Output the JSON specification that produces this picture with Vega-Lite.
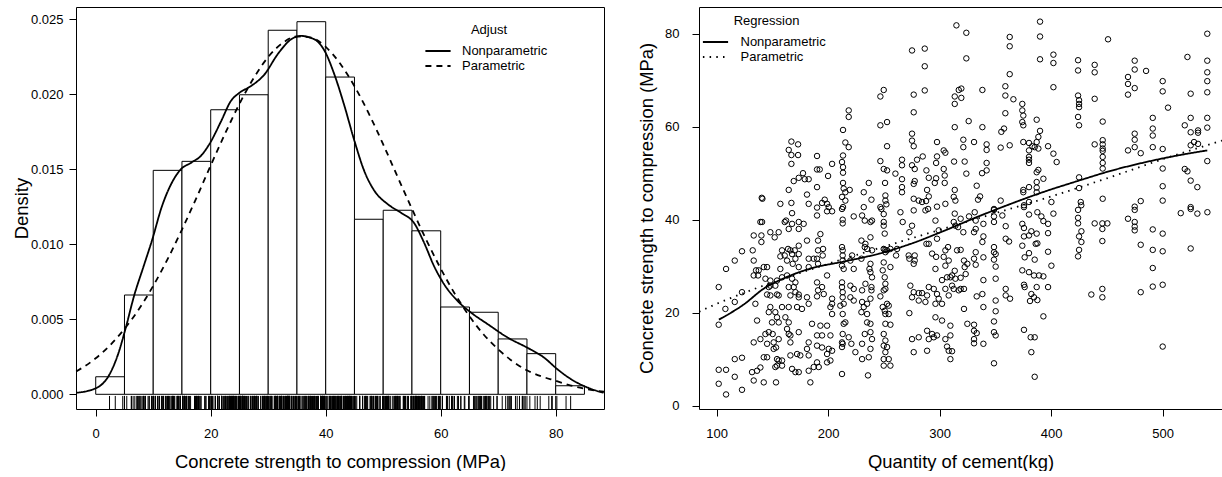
{
"$schema": "https://vega.github.io/schema/vega-lite/v6.json",
"background": "white",
"padding": {"left": 11, "top": 6, "right": 0, "bottom": 0},
"bounds": "flush",
"spacing": 95,
"config": {
"font": "Liberation Sans",
"view": {"stroke": "black", "strokeWidth": 1},
"axis": {"domain": false, "ticks": true, "tickColor": "black", "tickSize": 7, "tickWidth": 1, "labelColor": "black", "labelFontSize": 13, "labelFont": "Liberation Sans", "titleFont": "Liberation Sans", "titleFontSize": 18.4, "titleFontWeight": "normal", "titleColor": "black", "grid": false, "labelFlush": false, "labelOverlap": false},
"axisX": {"labelPadding": 11, "titlePadding": 12},
"axisY": {"labelPadding": 6, "titlePadding": -1},
"legend": {"labelFont": "Liberation Sans", "titleFont": "Liberation Sans", "labelFontSize": 13, "titleFontSize": 13, "titleFontWeight": "normal", "labelColor": "black", "titleColor": "black", "symbolType": "M-1.8,0H1.8", "symbolSize": 196, "symbolStrokeWidth": 1.8, "symbolStrokeColor": "black", "padding": 0, "rowPadding": 0, "titlePadding": 6, "titleAnchor": "middle", "titleAlign": "center"}
},
"datasets": {
"hist": [
{"b0":0,"b1":5,"d":0.00117},{"b0":5,"b1":10,"d":0.00662},{"b0":10,"b1":15,"d":0.01493},{"b0":15,"b1":20,"d":0.01553},{"b0":20,"b1":25,"d":0.01897},{"b0":25,"b1":30,"d":0.01997},{"b0":30,"b1":35,"d":0.02427},{"b0":35,"b1":40,"d":0.02484},{"b0":40,"b1":45,"d":0.02115},{"b0":45,"b1":50,"d":0.01167},{"b0":50,"b1":55,"d":0.01227},{"b0":55,"b1":60,"d":0.0109},{"b0":60,"b1":65,"d":0.00582},{"b0":65,"b1":70,"d":0.00547},{"b0":70,"b1":75,"d":0.00369},{"b0":75,"b1":80,"d":0.00271},{"b0":80,"b1":85,"d":0.00057}
],
"dens": [
{"x":-3.4,"d":0.0001,"type":"Nonparametric"},{"x":0,"d":0.0004,"type":"Nonparametric"},{"x":2.5,"d":0.0014,"type":"Nonparametric"},{"x":4,"d":0.0028,"type":"Nonparametric"},{"x":5.2,"d":0.0044,"type":"Nonparametric"},{"x":6.7,"d":0.0066,"type":"Nonparametric"},{"x":8.3,"d":0.0085,"type":"Nonparametric"},{"x":9.9,"d":0.0104,"type":"Nonparametric"},{"x":11.4,"d":0.0124,"type":"Nonparametric"},{"x":13.1,"d":0.014,"type":"Nonparametric"},{"x":14.8,"d":0.015,"type":"Nonparametric"},{"x":16.6,"d":0.01544,"type":"Nonparametric"},{"x":18.3,"d":0.0159,"type":"Nonparametric"},{"x":19.8,"d":0.0167,"type":"Nonparametric"},{"x":21.8,"d":0.0182,"type":"Nonparametric"},{"x":23.5,"d":0.01955,"type":"Nonparametric"},{"x":25,"d":0.0201,"type":"Nonparametric"},{"x":27,"d":0.02055,"type":"Nonparametric"},{"x":29.3,"d":0.0213,"type":"Nonparametric"},{"x":31.7,"d":0.0227,"type":"Nonparametric"},{"x":34,"d":0.02367,"type":"Nonparametric"},{"x":35.7,"d":0.02389,"type":"Nonparametric"},{"x":38,"d":0.02367,"type":"Nonparametric"},{"x":39.8,"d":0.0229,"type":"Nonparametric"},{"x":41.5,"d":0.02133,"type":"Nonparametric"},{"x":43.2,"d":0.0193,"type":"Nonparametric"},{"x":45,"d":0.01689,"type":"Nonparametric"},{"x":46.7,"d":0.01489,"type":"Nonparametric"},{"x":48.5,"d":0.01355,"type":"Nonparametric"},{"x":50.8,"d":0.01267,"type":"Nonparametric"},{"x":53.1,"d":0.0121,"type":"Nonparametric"},{"x":55.4,"d":0.0114,"type":"Nonparametric"},{"x":57,"d":0.0102,"type":"Nonparametric"},{"x":58.9,"d":0.0085,"type":"Nonparametric"},{"x":60.6,"d":0.00733,"type":"Nonparametric"},{"x":63,"d":0.0062,"type":"Nonparametric"},{"x":65.3,"d":0.00544,"type":"Nonparametric"},{"x":68.2,"d":0.00467,"type":"Nonparametric"},{"x":71.7,"d":0.00377,"type":"Nonparametric"},{"x":75.1,"d":0.0031,"type":"Nonparametric"},{"x":78,"d":0.00244,"type":"Nonparametric"},{"x":80.3,"d":0.00167,"type":"Nonparametric"},{"x":82.7,"d":0.001,"type":"Nonparametric"},{"x":85.6,"d":0.00044,"type":"Nonparametric"},{"x":88.3,"d":0.0001,"type":"Nonparametric"},
{"x":-3.4,"d":0.00152,"type":"Parametric"},{"x":0,"d":0.0024,"type":"Parametric"},{"x":2.5,"d":0.00327,"type":"Parametric"},{"x":5,"d":0.00436,"type":"Parametric"},{"x":7.5,"d":0.00567,"type":"Parametric"},{"x":10,"d":0.00723,"type":"Parametric"},{"x":12.5,"d":0.00901,"type":"Parametric"},{"x":15,"d":0.01098,"type":"Parametric"},{"x":17.5,"d":0.01308,"type":"Parametric"},{"x":20,"d":0.01526,"type":"Parametric"},{"x":22.5,"d":0.01738,"type":"Parametric"},{"x":25,"d":0.01937,"type":"Parametric"},{"x":27.5,"d":0.0211,"type":"Parametric"},{"x":30,"d":0.02249,"type":"Parametric"},{"x":32.5,"d":0.02342,"type":"Parametric"},{"x":35,"d":0.02386,"type":"Parametric"},{"x":37.5,"d":0.02377,"type":"Parametric"},{"x":40,"d":0.02316,"type":"Parametric"},{"x":42.5,"d":0.02205,"type":"Parametric"},{"x":45,"d":0.02054,"type":"Parametric"},{"x":47.5,"d":0.01871,"type":"Parametric"},{"x":50,"d":0.01666,"type":"Parametric"},{"x":52.5,"d":0.0145,"type":"Parametric"},{"x":55,"d":0.01236,"type":"Parametric"},{"x":57.5,"d":0.01029,"type":"Parametric"},{"x":60,"d":0.00838,"type":"Parametric"},{"x":62.5,"d":0.00667,"type":"Parametric"},{"x":65,"d":0.0052,"type":"Parametric"},{"x":67.5,"d":0.00397,"type":"Parametric"},{"x":70,"d":0.003,"type":"Parametric"},{"x":72.5,"d":0.0022,"type":"Parametric"},{"x":75,"d":0.0016,"type":"Parametric"},{"x":77.5,"d":0.0012,"type":"Parametric"},{"x":80,"d":0.0009,"type":"Parametric"},{"x":82.5,"d":0.0006,"type":"Parametric"},{"x":85,"d":0.00038,"type":"Parametric"},{"x":88.4,"d":0.00017,"type":"Parametric"}
],
"reg": [
{"x":102,"y":18.5,"type":"Nonparametric"},{"x":124.5,"y":21.8,"type":"Nonparametric"},{"x":142.4,"y":25.2,"type":"Nonparametric"},{"x":160.4,"y":27.4,"type":"Nonparametric"},{"x":184.3,"y":29.5,"type":"Nonparametric"},{"x":214.2,"y":31.0,"type":"Nonparametric"},{"x":244.1,"y":32.6,"type":"Nonparametric"},{"x":274,"y":34.8,"type":"Nonparametric"},{"x":303.9,"y":37.6,"type":"Nonparametric"},{"x":333.8,"y":40.6,"type":"Nonparametric"},{"x":363.7,"y":43.4,"type":"Nonparametric"},{"x":393.6,"y":46.0,"type":"Nonparametric"},{"x":423.5,"y":48.3,"type":"Nonparametric"},{"x":453.4,"y":50.5,"type":"Nonparametric"},{"x":483.3,"y":52.3,"type":"Nonparametric"},{"x":513.2,"y":53.8,"type":"Nonparametric"},{"x":540,"y":54.9,"type":"Nonparametric"},
{"x":84.2,"y":20.2,"type":"Parametric"},{"x":100,"y":21.9,"type":"Parametric"},{"x":125,"y":24.3,"type":"Parametric"},{"x":150,"y":26.5,"type":"Parametric"},{"x":200,"y":30.5,"type":"Parametric"},{"x":250,"y":34.2,"type":"Parametric"},{"x":300,"y":37.8,"type":"Parametric"},{"x":350,"y":41.4,"type":"Parametric"},{"x":400,"y":45.0,"type":"Parametric"},{"x":450,"y":48.9,"type":"Parametric"},{"x":500,"y":53.0,"type":"Parametric"},{"x":553.2,"y":57.0,"type":"Parametric"}
],
"pts": [
{"c":315,"s":81.8},{"c":275.2,"s":76.4},{"c":286.6,"s":76.8},{"c":286.6,"s":73.0},{"c":246.8,"s":66.5},{"c":249.8,"s":67.9},{"c":276.7,"s":66.9},{"c":286.6,"s":67.8},{"c":313.5,"s":66.5},{"c":317.1,"s":67.9},{"c":313.5,"s":64.9},{"c":218.4,"s":63.5},{"c":218.4,"s":62.1},{"c":276.7,"s":63.1},{"c":246.8,"s":60.3},{"c":252.8,"s":61.0},{"c":313.5,"s":59.9},{"c":213.3,"s":59.3},{"c":275.2,"s":58.5},{"c":275.2,"s":57.0},{"c":276.7,"s":55.8},{"c":297.6,"s":56.7},{"c":167,"s":56.8},{"c":173,"s":56.2},{"c":164.6,"s":55.0},{"c":167,"s":53.9},{"c":173,"s":53.9},{"c":167,"s":52.0},{"c":190,"s":53.7},{"c":213.3,"s":53.8},{"c":215.4,"s":56.6},{"c":218.4,"s":55.6},{"c":212.4,"s":52.4},{"c":213.3,"s":51.3},{"c":213.3,"s":50.1},{"c":252.8,"s":55.8},{"c":203.5,"s":52.0},{"c":246.8,"s":52.6},{"c":249.8,"s":50.9},{"c":252.8,"s":50.6},{"c":260.3,"s":49.9},{"c":266.2,"s":52.9},{"c":266.2,"s":51.7},{"c":275.2,"s":51.7},{"c":277.6,"s":50.9},{"c":279.7,"s":52.9},{"c":284.8,"s":53.6},{"c":297.6,"s":53.6},{"c":296.8,"s":52.2},{"c":303.6,"s":54.9},{"c":305.1,"s":54.4},{"c":312.9,"s":52.5},{"c":288.1,"s":50.6},{"c":290.2,"s":49.0},{"c":296.8,"s":48.9},{"c":295.6,"s":47.9},{"c":303.6,"s":50.9},{"c":304.5,"s":49.5},{"c":304.5,"s":47.9},{"c":177.4,"s":50.0},{"c":173.6,"s":49.0},{"c":179,"s":48.7},{"c":182.5,"s":48.7},{"c":169.1,"s":48.3},{"c":190,"s":50.8},{"c":192.4,"s":50.8},{"c":199.9,"s":49.4},{"c":164.6,"s":46.4},{"c":190,"s":47.0},{"c":213.3,"s":47.9},{"c":213.9,"s":46.7},{"c":215.4,"s":45.9},{"c":219.3,"s":46.4},{"c":212.4,"s":44.9},{"c":215.4,"s":44.1},{"c":213.3,"s":42.7},{"c":236.4,"s":47.9},{"c":231.9,"s":45.9},{"c":238.8,"s":44.3},{"c":246.8,"s":42.7},{"c":251,"s":47.9},{"c":251.3,"s":45.2},{"c":251.3,"s":44.1},{"c":252.2,"s":43.3},{"c":266.2,"s":48.7},{"c":266.2,"s":47.0},{"c":266.2,"s":45.9},{"c":277.6,"s":48.3},{"c":276.7,"s":47.7},{"c":276.7,"s":44.5},{"c":281.2,"s":44.1},{"c":284.2,"s":43.8},{"c":288.7,"s":46.4},{"c":290.2,"s":45.0},{"c":287.8,"s":44.0},{"c":305.1,"s":43.4},{"c":297.6,"s":42.8},{"c":313.5,"s":46.4},{"c":312.6,"s":44.9},{"c":314.1,"s":44.1},{"c":140.4,"s":44.7},{"c":141,"s":44.5},{"c":157.1,"s":43.4},{"c":167,"s":43.6},{"c":181,"s":45.4},{"c":182.5,"s":43.4},{"c":196.9,"s":44.3},{"c":194.5,"s":43.6},{"c":199,"s":43.4},{"c":190,"s":42.6},{"c":200.5,"s":42.7},{"c":231.9,"s":42.7},
{"c":323.9,"s":80.2},{"c":323.9,"s":74.7},{"c":319.4,"s":68.2},{"c":319.4,"s":66.2},{"c":338.3,"s":67.9},{"c":390,"s":82.6},{"c":390,"s":79.4},{"c":390,"s":74.5},{"c":362.8,"s":79.3},{"c":362.8,"s":77.3},{"c":362.8,"s":71.3},{"c":402,"s":75.5},{"c":402,"s":73.7},{"c":402,"s":68.5},{"c":451,"s":78.8},{"c":424.1,"s":74.3},{"c":424.1,"s":72.1},{"c":439,"s":73.3},{"c":439,"s":71.7},{"c":439,"s":66.0},{"c":474.9,"s":74.2},{"c":474.9,"s":72.3},{"c":485.1,"s":72.0},{"c":468.9,"s":70.7},{"c":468.9,"s":69.2},{"c":468.9,"s":66.9},{"c":474.9,"s":68.3},{"c":500,"s":69.8},{"c":500,"s":67.6},{"c":504.8,"s":64.1},{"c":522.2,"s":75.0},{"c":525.1,"s":67.1},{"c":540,"s":80.0},{"c":540,"s":74.2},{"c":540,"s":71.7},{"c":540,"s":69.8},{"c":540,"s":67.4},{"c":540,"s":61.9},{"c":540,"s":59.8},{"c":540,"s":52.6},{"c":525.1,"s":61.9},{"c":519.8,"s":60.3},{"c":525.1,"s":58.8},{"c":531.7,"s":59.2},{"c":531.7,"s":58.7},{"c":528.1,"s":56.7},{"c":531.7,"s":56.3},{"c":525.1,"s":56.0},{"c":519.8,"s":50.9},{"c":522.2,"s":50.4},{"c":525.1,"s":48.4},{"c":531.1,"s":47.0},{"c":500,"s":55.2},{"c":500,"s":51.0},{"c":500,"s":47.2},{"c":500,"s":44.1},{"c":491.1,"s":61.9},{"c":491.1,"s":59.6},{"c":491.1,"s":58.1},{"c":491.1,"s":55.6},{"c":474.9,"s":58.5},{"c":474.9,"s":57.2},{"c":474.9,"s":55.6},{"c":468.9,"s":54.9},{"c":480.3,"s":54.3},{"c":424.1,"s":66.7},{"c":425,"s":65.7},{"c":425,"s":64.9},{"c":425,"s":64.2},{"c":424.1,"s":62.1},{"c":425,"s":60.3},{"c":446.2,"s":61.1},{"c":439,"s":56.2},{"c":446.2,"s":57.1},{"c":446.2,"s":56.2},{"c":446.2,"s":55.3},{"c":446.2,"s":54.8},{"c":446.2,"s":53.5},{"c":446.2,"s":52.2},{"c":446.2,"s":51.0},{"c":425,"s":49.1},{"c":425,"s":46.8},{"c":446.2,"s":44.5},{"c":426.5,"s":43.8},{"c":427,"s":43.1},{"c":474.9,"s":42.8},{"c":480.3,"s":44.0},{"c":525.1,"s":42.7},{"c":358.9,"s":68.7},{"c":358.9,"s":66.7},{"c":366.1,"s":65.9},{"c":358.9,"s":62.9},{"c":374.1,"s":64.9},{"c":374.1,"s":63.5},{"c":375,"s":62.4},{"c":374.1,"s":61.0},{"c":375,"s":60.3},{"c":387,"s":61.5},{"c":326,"s":61.2},{"c":338.3,"s":59.9},{"c":357.7,"s":59.6},{"c":355.3,"s":58.9},{"c":390,"s":59.1},{"c":388.5,"s":57.8},{"c":387,"s":56.7},{"c":385.2,"s":55.6},{"c":388.5,"s":55.3},{"c":375,"s":56.7},{"c":380.1,"s":56.5},{"c":383.1,"s":55.8},{"c":380.1,"s":54.9},{"c":362.8,"s":56.0},{"c":354.7,"s":55.5},{"c":397.2,"s":55.8},{"c":402,"s":54.2},{"c":404.9,"s":52.4},{"c":380.1,"s":53.5},{"c":380.1,"s":52.9},{"c":380.1,"s":52.2},{"c":321.2,"s":57.2},{"c":330.8,"s":56.7},{"c":321.2,"s":55.6},{"c":342.1,"s":56.2},{"c":342.1,"s":55.0},{"c":322.4,"s":52.5},{"c":342.1,"s":52.2},{"c":323.9,"s":49.9},{"c":338,"s":50.0},{"c":342.1,"s":50.6},{"c":388.5,"s":50.7},{"c":387,"s":50.2},{"c":393,"s":48.8},{"c":387,"s":48.1},{"c":387,"s":46.9},{"c":387,"s":45.9},{"c":380.1,"s":47.0},{"c":375,"s":46.4},{"c":375,"s":45.9},{"c":333.2,"s":47.3},{"c":336.2,"s":45.0},{"c":334.4,"s":44.3},{"c":354.7,"s":44.1},{"c":348.7,"s":42.3},{"c":380.1,"s":43.8},{"c":375.6,"s":43.1},{"c":400.2,"s":43.8},
{"c":167.6,"s":41.4},{"c":190,"s":40.9},{"c":199,"s":41.8},{"c":203.5,"s":41.8},{"c":212.4,"s":42.3},{"c":213,"s":40.0},{"c":213,"s":39.2},{"c":222.9,"s":40.7},{"c":230.4,"s":40.9},{"c":232.8,"s":39.8},{"c":237.9,"s":39.5},{"c":239.3,"s":39.8},{"c":247.7,"s":42.3},{"c":249.8,"s":41.2},{"c":249.8,"s":39.5},{"c":249.8,"s":38.7},{"c":250.7,"s":37.0},{"c":264.8,"s":41.6},{"c":266.8,"s":39.5},{"c":275.2,"s":38.7},{"c":272.8,"s":37.3},{"c":276.7,"s":42.0},{"c":287.2,"s":42.0},{"c":289.6,"s":42.3},{"c":296.2,"s":39.8},{"c":299.1,"s":37.7},{"c":297.6,"s":35.9},{"c":290.2,"s":34.8},{"c":313.5,"s":41.3},{"c":312.6,"s":39.5},{"c":316.5,"s":38.4},{"c":314.1,"s":38.7},{"c":139.2,"s":39.5},{"c":140.7,"s":39.5},{"c":133.2,"s":36.6},{"c":140.1,"s":36.6},{"c":140.1,"s":35.2},{"c":148.1,"s":37.3},{"c":155.6,"s":37.3},{"c":152,"s":36.2},{"c":161,"s":39.5},{"c":162.2,"s":39.8},{"c":167.6,"s":39.1},{"c":173.6,"s":39.5},{"c":178,"s":39.1},{"c":164.6,"s":38.0},{"c":173.6,"s":38.0},{"c":181,"s":35.5},{"c":190.9,"s":35.5},{"c":193,"s":36.9},{"c":195.4,"s":33.7},{"c":173.6,"s":34.4},{"c":170,"s":33.4},{"c":166.1,"s":33.4},{"c":164,"s":33.7},{"c":167.6,"s":32.6},{"c":173.6,"s":32.6},{"c":158.6,"s":33.4},{"c":157.1,"s":32.1},{"c":161,"s":32.3},{"c":163.1,"s":31.2},{"c":170.6,"s":31.6},{"c":168.2,"s":30.5},{"c":173.6,"s":29.8},{"c":182.5,"s":31.6},{"c":190.9,"s":33.4},{"c":190,"s":31.6},{"c":195.1,"s":32.3},{"c":212.4,"s":34.1},{"c":213,"s":33.4},{"c":213,"s":32.3},{"c":213,"s":31.2},{"c":212.4,"s":30.1},{"c":213.9,"s":29.4},{"c":221.4,"s":32.3},{"c":219.9,"s":31.2},{"c":222.9,"s":29.4},{"c":229.8,"s":35.5},{"c":233.4,"s":34.8},{"c":234.9,"s":33.7},{"c":232.8,"s":34.1},{"c":239.3,"s":33.4},{"c":237.9,"s":36.2},{"c":229.8,"s":31.6},{"c":249.8,"s":33.7},{"c":251.3,"s":33.5},{"c":251.3,"s":33.0},{"c":252.8,"s":33.4},{"c":255.8,"s":33.7},{"c":261.8,"s":33.7},{"c":260.9,"s":32.3},{"c":237.9,"s":30.5},{"c":237,"s":29.4},{"c":237.9,"s":28.7},{"c":239.3,"s":27.6},{"c":249.8,"s":30.8},{"c":248.9,"s":29.1},{"c":250.7,"s":27.6},{"c":251.3,"s":26.2},{"c":255.8,"s":29.8},{"c":272.2,"s":32.3},{"c":272.8,"s":31.6},{"c":277.6,"s":32.3},{"c":277.6,"s":31.2},{"c":276.7,"s":30.5},{"c":288.1,"s":34.8},{"c":296.8,"s":32.0},{"c":293.2,"s":32.7},{"c":305.1,"s":33.4},{"c":307.5,"s":34.1},{"c":315.6,"s":33.4},{"c":308.1,"s":31.2},{"c":303.6,"s":32.0},{"c":296.2,"s":29.4},{"c":305.1,"s":30.1},{"c":313.5,"s":29.0},{"c":302.1,"s":27.0},{"c":306.6,"s":27.6},{"c":311.1,"s":28.0},{"c":101.8,"s":25.5},{"c":108.4,"s":29.4},{"c":116.2,"s":31.2},{"c":122.7,"s":33.2},{"c":132.3,"s":33.4},{"c":133.2,"s":31.2},{"c":135.3,"s":29.1},{"c":133.2,"s":28.0},{"c":137.1,"s":28.0},{"c":137.7,"s":29.1},{"c":142.2,"s":29.8},{"c":145.2,"s":29.8},{"c":143.7,"s":27.3},{"c":148.1,"s":26.9},{"c":148.1,"s":25.8},{"c":152.6,"s":25.8},{"c":154.1,"s":26.9},{"c":157.1,"s":29.4},{"c":158.6,"s":27.6},{"c":163.1,"s":28.0},{"c":167.6,"s":27.3},{"c":164.6,"s":25.5},{"c":169.1,"s":25.5},{"c":170.6,"s":24.4},{"c":173.6,"s":23.9},{"c":173.6,"s":23.3},{"c":166.1,"s":23.7},{"c":170.6,"s":26.5},{"c":145.2,"s":23.9},{"c":148.1,"s":23.7},{"c":154.1,"s":23.9},{"c":155.6,"s":23.7},{"c":146.7,"s":25.5},{"c":122.7,"s":24.4},{"c":116.2,"s":22.3},{"c":107.8,"s":20.8},{"c":134.7,"s":21.9},{"c":158.6,"s":21.2},{"c":164.6,"s":21.2},{"c":172.1,"s":21.2},{"c":176.5,"s":20.8},{"c":182.5,"s":21.9},{"c":181,"s":23.3},{"c":190,"s":23.5},{"c":190.9,"s":24.8},{"c":194.5,"s":25.5},{"c":196,"s":24.0},{"c":190,"s":26.5},{"c":199,"s":28.0},{"c":182.5,"s":29.8},{"c":190.9,"s":30.5},{"c":187,"s":31.6},{"c":203.5,"s":23.0},{"c":203.5,"s":21.9},{"c":202,"s":21.2},{"c":203.5,"s":19.7},{"c":212.4,"s":26.5},{"c":212.4,"s":25.5},{"c":213,"s":24.4},{"c":213,"s":23.3},{"c":213.9,"s":21.9},{"c":210.9,"s":21.5},{"c":213,"s":19.7},{"c":215.4,"s":17.9},{"c":213.9,"s":17.6},{"c":213,"s":15.4},{"c":212.4,"s":13.6},{"c":213,"s":13.3},{"c":212.4,"s":12.6},{"c":219.9,"s":25.8},{"c":222.9,"s":25.1},{"c":219.9,"s":23.3},{"c":222.9,"s":22.6},{"c":230.4,"s":24.8},{"c":230.4,"s":22.3},{"c":231.9,"s":21.2},{"c":234.9,"s":21.9},{"c":237.9,"s":23.0},{"c":238.8,"s":24.8},{"c":238.8,"s":25.5},{"c":233.4,"s":26.2},{"c":229.8,"s":20.1},{"c":234.9,"s":19.7},{"c":234.9,"s":17.9},{"c":237.9,"s":17.6},{"c":232.8,"s":15.4},{"c":237.9,"s":15.8},{"c":239.3,"s":14.3},{"c":246.8,"s":23.5},{"c":249.8,"s":24.8},{"c":251.3,"s":25.1},{"c":248.9,"s":21.2},{"c":250.7,"s":20.4},{"c":251.3,"s":19.7},{"c":254.3,"s":21.5},{"c":252.8,"s":21.9},{"c":254.3,"s":19.7},{"c":255.8,"s":17.4},{"c":251.3,"s":17.6},{"c":249.8,"s":15.4},{"c":251.3,"s":14.0},{"c":249.8,"s":12.9},{"c":252.8,"s":12.6},{"c":251.3,"s":11.5},{"c":249.8,"s":10.0},{"c":254.3,"s":10.0},{"c":255.8,"s":8.6},{"c":249.8,"s":8.6},{"c":224.4,"s":11.5},{"c":230.4,"s":10.0},{"c":236.4,"s":10.4},{"c":237.9,"s":12.2},{"c":230.4,"s":13.3},{"c":220.8,"s":13.3},{"c":218.4,"s":14.7},{"c":185.5,"s":17.6},{"c":193,"s":17.2},{"c":199,"s":17.2},{"c":190,"s":15.1},{"c":194.5,"s":15.1},{"c":202,"s":15.1},{"c":182.5,"s":13.6},{"c":190,"s":12.9},{"c":194.5,"s":12.5},{"c":200.5,"s":12.2},{"c":203.5,"s":11.8},{"c":199,"s":11.1},{"c":199,"s":9.3},{"c":190,"s":9.3},{"c":191.5,"s":8.3},{"c":202,"s":9.7},{"c":181,"s":12.2},{"c":182.5,"s":10.8},{"c":175,"s":10.8},{"c":172.1,"s":11.1},{"c":166.1,"s":10.8},{"c":167.6,"s":7.9},{"c":170.6,"s":7.2},{"c":173.6,"s":7.2},{"c":182.5,"s":7.5},{"c":187,"s":8.3},{"c":184,"s":5.0},{"c":148.1,"s":21.2},{"c":146.7,"s":20.1},{"c":152.6,"s":20.1},{"c":149.6,"s":17.9},{"c":154.1,"s":19.0},{"c":155.6,"s":17.9},{"c":161.6,"s":19.0},{"c":164.6,"s":17.9},{"c":163.1,"s":16.5},{"c":164.6,"s":15.4},{"c":166.1,"s":15.1},{"c":173.6,"s":15.8},{"c":166.1,"s":13.6},{"c":136.2,"s":18.3},{"c":146.7,"s":15.8},{"c":143.7,"s":15.4},{"c":150.2,"s":15.4},{"c":139.2,"s":14.3},{"c":151.1,"s":13.6},{"c":145.2,"s":13.3},{"c":133.2,"s":13.6},{"c":153.2,"s":12.5},{"c":151.1,"s":12.2},{"c":155.6,"s":14.3},{"c":142.2,"s":10.4},{"c":145.2,"s":10.4},{"c":154.1,"s":10.0},{"c":155.6,"s":9.7},{"c":158.6,"s":8.6},{"c":154.1,"s":8.6},{"c":152.6,"s":8.3},{"c":158.6,"s":9.7},{"c":116.2,"s":10.0},{"c":122.7,"s":10.3},{"c":101.8,"s":7.7},{"c":108.4,"s":7.7},{"c":116.2,"s":6.2},{"c":131.7,"s":7.2},{"c":136.2,"s":7.5},{"c":139.2,"s":8.2},{"c":133.2,"s":5.4},{"c":142.2,"s":5.0},{"c":153.2,"s":5.0},{"c":101.8,"s":4.7},{"c":108.4,"s":2.4},{"c":122.7,"s":3.4},{"c":101.8,"s":17.4},{"c":212.4,"s":6.8},{"c":235.7,"s":6.5},{"c":273.7,"s":25.8},{"c":276.7,"s":24.4},{"c":275.2,"s":23.3},{"c":281.2,"s":24.2},{"c":284.2,"s":24.2},{"c":281.2,"s":22.6},{"c":287.2,"s":22.3},{"c":288.7,"s":23.7},{"c":294.7,"s":25.1},{"c":290.2,"s":25.5},{"c":297.6,"s":24.0},{"c":299.1,"s":23.0},{"c":296.2,"s":21.9},{"c":302.1,"s":21.9},{"c":305.1,"s":25.1},{"c":311.1,"s":25.8},{"c":312.6,"s":25.1},{"c":317.1,"s":24.8},{"c":308.1,"s":23.7},{"c":314.1,"s":27.3},{"c":309.6,"s":27.6},{"c":272.8,"s":19.9},{"c":296.2,"s":19.0},{"c":302.1,"s":18.3},{"c":309.6,"s":17.2},{"c":275.2,"s":14.3},{"c":281.2,"s":14.7},{"c":288.7,"s":16.1},{"c":293.2,"s":15.4},{"c":294.7,"s":14.7},{"c":297.6,"s":15.1},{"c":290.2,"s":14.3},{"c":305.1,"s":14.3},{"c":309.6,"s":15.1},{"c":306.6,"s":12.7},{"c":308.1,"s":11.8},{"c":311.1,"s":11.7},{"c":276.7,"s":11.5},{"c":288.7,"s":11.8},{"c":309.6,"s":10.0},
{"c":318.8,"s":40.2},{"c":321.2,"s":37.3},{"c":326.3,"s":40.7},{"c":331.4,"s":41.6},{"c":332.3,"s":39.8},{"c":332.3,"s":38.0},{"c":330.8,"s":37.3},{"c":339.2,"s":39.1},{"c":348.7,"s":42.1},{"c":348.7,"s":40.7},{"c":348.7,"s":39.5},{"c":356.2,"s":40.9},{"c":359.2,"s":38.6},{"c":375.6,"s":42.7},{"c":339.2,"s":36.4},{"c":338.3,"s":35.2},{"c":348.7,"s":34.1},{"c":348.7,"s":33.0},{"c":350.2,"s":32.6},{"c":348.7,"s":31.4},{"c":350.2,"s":29.9},{"c":359.2,"s":35.9},{"c":362.2,"s":35.3},{"c":374.1,"s":39.1},{"c":375.6,"s":38.2},{"c":382.2,"s":37.5},{"c":380.1,"s":36.6},{"c":375.6,"s":36.4},{"c":387,"s":37.0},{"c":387.6,"s":34.9},{"c":386.1,"s":34.8},{"c":393,"s":39.7},{"c":397.2,"s":39.1},{"c":397.2,"s":37.1},{"c":387.6,"s":41.6},{"c":391.2,"s":40.7},{"c":402,"s":41.3},{"c":380.1,"s":41.1},{"c":374.1,"s":34.4},{"c":380.1,"s":32.8},{"c":376.2,"s":31.9},{"c":385.2,"s":31.4},{"c":397.2,"s":33.1},{"c":400.2,"s":30.1},{"c":318.8,"s":33.5},{"c":321.8,"s":31.2},{"c":322.4,"s":29.8},{"c":324.8,"s":30.5},{"c":330.8,"s":31.6},{"c":332.3,"s":33.0},{"c":332.3,"s":30.3},{"c":339.2,"s":31.9},{"c":323.3,"s":28.3},{"c":339.2,"s":27.0},{"c":350.2,"s":27.3},{"c":318.8,"s":25.1},{"c":321.8,"s":25.1},{"c":333.2,"s":23.5},{"c":338.3,"s":24.0},{"c":339.2,"s":21.2},{"c":350.2,"s":22.6},{"c":350.2,"s":20.3},{"c":348.7,"s":18.1},{"c":348.7,"s":15.8},{"c":350.2,"s":15.1},{"c":359.2,"s":25.1},{"c":359.2,"s":23.7},{"c":363.1,"s":23.0},{"c":374.1,"s":29.1},{"c":380.1,"s":28.7},{"c":384.6,"s":28.0},{"c":389.1,"s":28.0},{"c":393,"s":27.8},{"c":397.2,"s":25.5},{"c":387,"s":25.5},{"c":375.6,"s":26.0},{"c":376.2,"s":25.5},{"c":382.2,"s":24.0},{"c":384.6,"s":23.3},{"c":387.6,"s":22.7},{"c":381,"s":22.5},{"c":393,"s":19.2},{"c":375.6,"s":16.3},{"c":381.6,"s":14.7},{"c":385.2,"s":14.7},{"c":382.2,"s":11.5},{"c":385.2,"s":6.2},{"c":321.8,"s":20.8},{"c":324.8,"s":17.6},{"c":330.8,"s":17.4},{"c":330.8,"s":16.1},{"c":333.2,"s":15.6},{"c":330.8,"s":14.3},{"c":330.8,"s":13.4},{"c":339.2,"s":13.3},{"c":348.7,"s":9.1},{"c":318.8,"s":27.5},{"c":424.1,"s":42.1},{"c":424.1,"s":40.4},{"c":424.1,"s":39.2},{"c":427.1,"s":37.5},{"c":425,"s":36.4},{"c":427.1,"s":35.2},{"c":425,"s":33.5},{"c":424.1,"s":32.1},{"c":439,"s":39.2},{"c":445.9,"s":39.2},{"c":450.4,"s":39.2},{"c":445.9,"s":38.0},{"c":445.9,"s":35.4},{"c":436,"s":23.9},{"c":445.9,"s":25.1},{"c":445.9,"s":23.3},{"c":468.9,"s":40.2},{"c":474.9,"s":39.5},{"c":474.9,"s":38.5},{"c":474.9,"s":37.7},{"c":480.3,"s":34.6},{"c":474.9,"s":42.1},{"c":491.1,"s":37.9},{"c":500,"s":37.0},{"c":491.1,"s":33.5},{"c":500,"s":33.2},{"c":491.1,"s":29.6},{"c":491.1,"s":25.6},{"c":500,"s":26.0},{"c":480.3,"s":24.4},{"c":500,"s":12.7},{"c":516.2,"s":41.4},{"c":525.1,"s":42.3},{"c":531.1,"s":41.3},{"c":540.1,"s":41.6},{"c":525.1,"s":33.8}
]
},
"hconcat": [
{
"width": 528, "height": 402,
"layer": [
{"data": {"name": "hist"}, "mark": {"type": "rect", "fill": "white", "stroke": "black", "strokeWidth": 1},
"encoding": {
"x": {"field": "b0", "type": "quantitative", "scale": {"domain": [-3.43, 88.4], "nice": false, "zero": false}, "axis": {"values": [0, 20, 40, 60, 80], "title": "Concrete strength to compression (MPa)"}},
"x2": {"field": "b1"},
"y": {"field": "d", "type": "quantitative", "scale": {"domain": [-0.00098, 0.02582], "nice": false, "zero": false}, "axis": {"values": [0, 0.005, 0.01, 0.015, 0.02, 0.025], "format": ".3f", "title": "Density"}},
"y2": {"datum": 0}
}},
{"data": {"name": "pts"}, "mark": {"type": "rule", "stroke": "black", "strokeWidth": 1},
"encoding": {
"x": {"field": "s", "type": "quantitative"},
"y": {"datum": -0.00098, "type": "quantitative"},
"y2": {"datum": -0.00011}
}},
{"data": {"name": "dens"}, "mark": {"type": "line", "stroke": "black", "strokeWidth": 1.8, "interpolate": "monotone"},
"encoding": {
"x": {"field": "x", "type": "quantitative"},
"y": {"field": "d", "type": "quantitative"},
"strokeDash": {"field": "type", "type": "nominal", "scale": {"domain": ["Nonparametric", "Parametric"], "range": [[1, 0], [6, 5]]}, "legend": {"title": "Adjust", "orient": "none", "legendX": 354, "legendY": 17, "labelOffset": 16}}
}}
]
},
{
"width": 523, "height": 402,
"layer": [
{"data": {"name": "pts"}, "mark": {"type": "point", "shape": "circle", "filled": false, "stroke": "black", "strokeWidth": 1, "size": 30, "opacity": 1},
"encoding": {
"x": {"field": "c", "type": "quantitative", "scale": {"domain": [84.13, 553.2], "nice": false, "zero": false}, "axis": {"values": [100, 200, 300, 400, 500], "title": "Quantity of cement(kg)"}},
"y": {"field": "s", "type": "quantitative", "scale": {"domain": [-0.73, 85.75], "nice": false, "zero": false}, "axis": {"values": [0, 20, 40, 60, 80], "title": "Concrete strength to compression (MPa)", "labelPadding": 13, "titlePadding": 8.5}}
}},
{"data": {"name": "reg"}, "mark": {"type": "line", "stroke": "black", "strokeWidth": 1.8, "interpolate": "monotone", "clip": true},
"encoding": {
"x": {"field": "x", "type": "quantitative"},
"y": {"field": "y", "type": "quantitative"},
"strokeDash": {"field": "type", "type": "nominal", "scale": {"domain": ["Nonparametric", "Parametric"], "range": [[1, 0], [1.5, 5.2]]}, "legend": {"title": "Regression", "orient": "none", "legendX": 8.5, "legendY": 8, "labelOffset": 17}}
}}
]
}
],
"resolve": {"scale": {"strokeDash": "independent"}, "legend": {"strokeDash": "independent"}}
}
